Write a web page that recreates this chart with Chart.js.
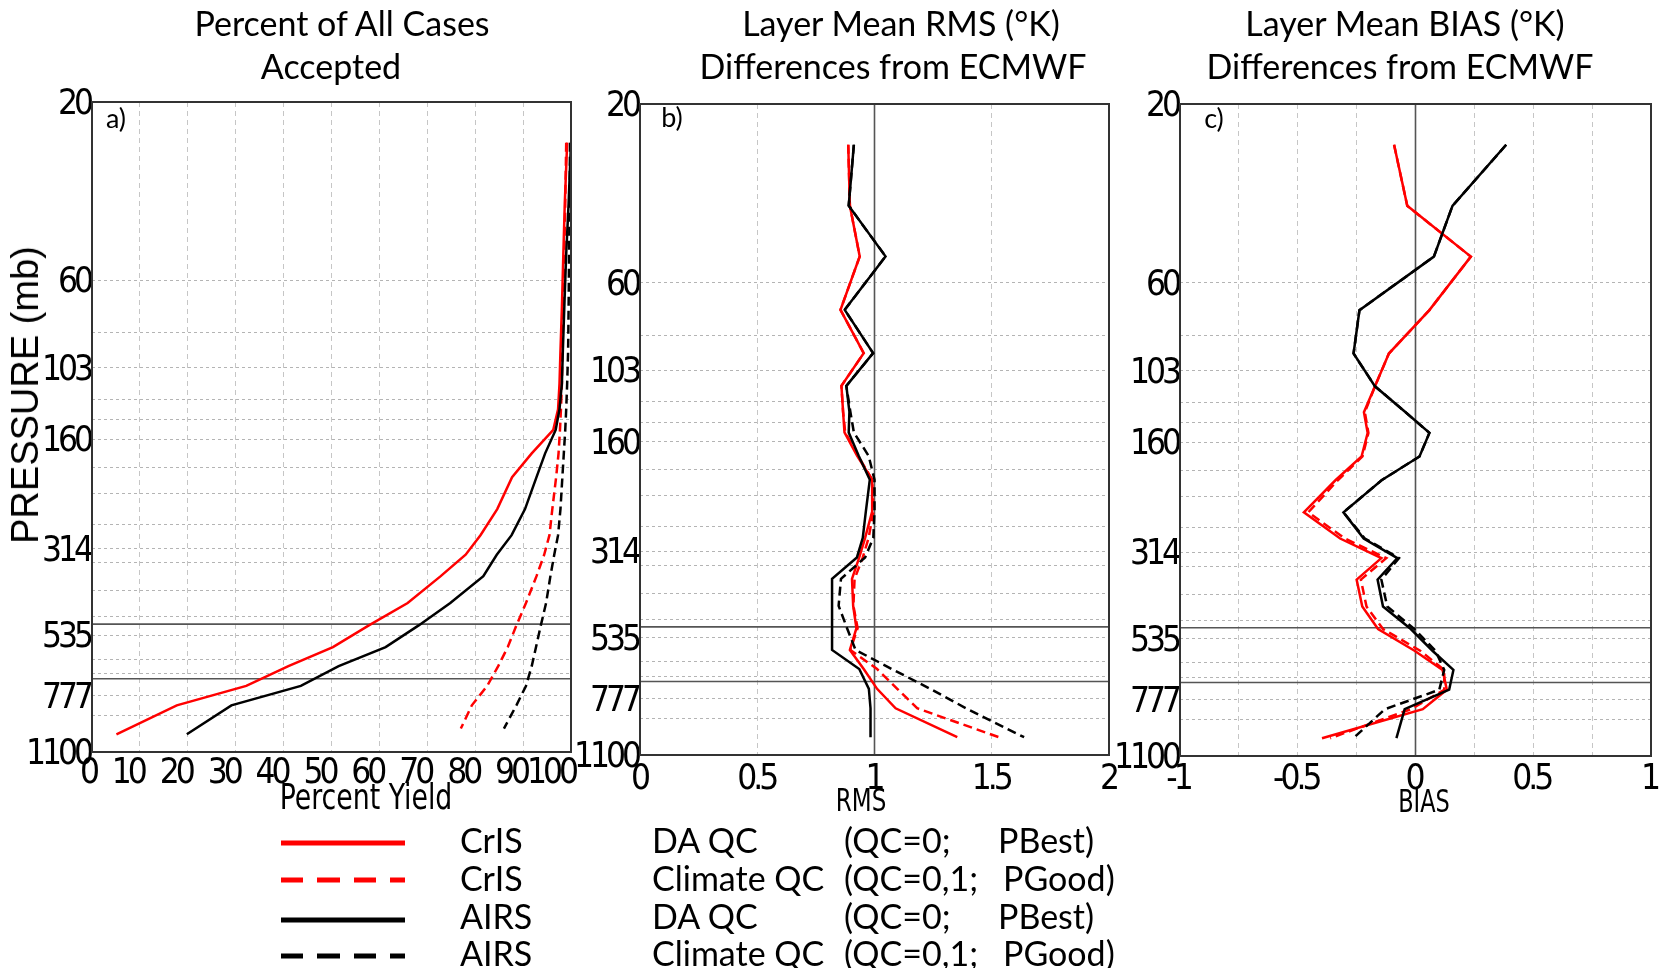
<!DOCTYPE html>
<html>
<head>
<meta charset="utf-8">
<script src="https://cdn.jsdelivr.net/npm/chart.js@4.4.1/dist/chart.umd.min.js"></script>
<style>
html,body{margin:0;padding:0;background:#fff;}
#wrap{position:relative;width:1665px;height:968px;overflow:hidden;background:#fff;}
canvas{position:absolute;left:0;top:0;}
.t{position:absolute;transform:translate(-50%,-50%);white-space:nowrap;line-height:1;color:#000;}
.title{font-family:Lato,'Open Sans',sans-serif;font-size:34px;}
.narrow{font-family:'DejaVu Sans Condensed','Liberation Sans',sans-serif;}
.lab{font-family:Lato,'Open Sans',sans-serif;font-size:27px;}
.lg{position:absolute;white-space:nowrap;line-height:1;font-family:Lato,'Open Sans',sans-serif;font-size:34px;transform:translateY(-50%);color:#000;}
.ln{position:absolute;left:281px;width:124px;height:5px;transform:translateY(-50%);}
</style>
</head>
<body>
<div id="wrap">
  <canvas id="ca" width="1665" height="968"></canvas>
  <canvas id="cb" width="1665" height="968"></canvas>
  <canvas id="cc" width="1665" height="968"></canvas>

  <div class="t title" style="left:342px;top:23px;">Percent of All Cases</div>
  <div class="t title" style="left:331px;top:66px;">Accepted</div>
  <div class="t title" style="left:901px;top:23px;">Layer Mean RMS (°K)</div>
  <div class="t title" style="left:893px;top:66px;">Differences from ECMWF</div>
  <div class="t title" style="left:1405px;top:23px;">Layer Mean BIAS (°K)</div>
  <div class="t title" style="left:1400px;top:66px;">Differences from ECMWF</div>

  <div class="t lab" style="left:116px;top:117px;">a)</div>
  <div class="t lab" style="left:672px;top:116px;">b)</div>
  <div class="t lab" style="left:1214px;top:117px;">c)</div>

  <div class="t" style="left:25px;top:395px;transform:translate(-50%,-50%) rotate(-90deg);font-family:'Liberation Sans',Arial,sans-serif;font-size:38px;">PRESSURE (mb)</div>
  <div class="t narrow" style="left:366px;top:797px;font-size:35px;transform:translate(-50%,-50%) scaleX(0.85);">Percent Yield</div>
  <div class="t narrow" style="left:861px;top:800px;font-size:32px;transform:translate(-50%,-50%) scaleX(0.8);">RMS</div>
  <div class="t narrow" style="left:1424px;top:801px;font-size:32px;transform:translate(-50%,-50%) scaleX(0.78);">BIAS</div>

  <div class="ln" style="top:843px;background:#ff0000;"></div>
  <div class="ln" style="top:880px;background:repeating-linear-gradient(to right,#ff0000 0 22px,transparent 22px 36.5px);"></div>
  <div class="ln" style="top:920px;background:#000;"></div>
  <div class="ln" style="top:956px;background:repeating-linear-gradient(to right,#000 0 22px,transparent 22px 36.5px);"></div>

  <div class="lg" style="left:460px;top:840px;">CrIS</div>
  <div class="lg" style="left:652px;top:840px;">DA QC</div>
  <div class="lg" style="left:844px;top:840px;">(QC=0;</div>
  <div class="lg" style="left:998px;top:840px;">PBest)</div>

  <div class="lg" style="left:460px;top:878px;">CrIS</div>
  <div class="lg" style="left:652px;top:878px;">Climate QC</div>
  <div class="lg" style="left:844px;top:878px;">(QC=0,1;</div>
  <div class="lg" style="left:1003px;top:878px;">PGood)</div>

  <div class="lg" style="left:460px;top:916px;">AIRS</div>
  <div class="lg" style="left:652px;top:916px;">DA QC</div>
  <div class="lg" style="left:844px;top:916px;">(QC=0;</div>
  <div class="lg" style="left:998px;top:916px;">PBest)</div>

  <div class="lg" style="left:460px;top:953px;">AIRS</div>
  <div class="lg" style="left:652px;top:953px;">Climate QC</div>
  <div class="lg" style="left:844px;top:953px;">(QC=0,1;</div>
  <div class="lg" style="left:1003px;top:953px;">PGood)</div>
</div>

<script>
// ---------------- DATA ----------------
// Layer pressures (mb) at which profile values are plotted
const LEVELS = [25.7, 37.4, 51.1, 71, 92.7, 113.4, 133, 151, 174.5, 202, 246, 289, 326, 372, 439, 504, 576, 648, 732, 825, 986];
// Panel a climate-QC profiles stop a bit higher
const LEVELS_A_CLIM = [25.7, 37.4, 51.1, 71, 92.7, 113.4, 133, 151, 174.5, 202, 246, 289, 326, 372, 439, 504, 576, 648, 732, 825, 952];

// Pressure grid lines and labelled pressure ticks
const GRID_P = [20, 60, 83, 103, 125, 142, 160, 190, 223, 270, 314, 343, 407, 478, 535, 620, 680, 777, 880, 1100];
const P_LABELS = [20, 60, 103, 160, 314, 535, 777, 1100];
const REF_P = [500, 700];

// x-axis ticks
const YIELD_TICKS = [0, 10, 20, 30, 40, 50, 60, 70, 80, 90, 100];
const RMS_TICKS = [0, 0.5, 1, 1.5, 2];
const BIAS_TICKS = [-1, -0.75, -0.5, -0.25, 0, 0.25, 0.5, 0.75, 1];
const RMS_REF = 1;
const BIAS_REF = 0;

// a) Percent yield
const yieldCrisDA   = [99.2, 98.7, 98.4, 98.1, 97.8, 97.6, 97.3, 96.3, 91.8, 87.7, 84.6, 81.1, 78.0, 72.8, 65.9, 57.8, 50.3, 41.0, 32.2, 17.7, 5.1];
const yieldCrisClim = [99.0, 98.8, 98.6, 98.4, 98.2, 98.1, 97.9, 97.7, 97.4, 96.9, 96.1, 95.5, 94.4, 92.8, 90.6, 88.6, 86.8, 84.8, 82.5, 79.3, 77.0];
const yieldAirsDA   = [100, 99.5, 99.0, 98.6, 98.3, 98.1, 97.6, 96.8, 94.6, 92.8, 90.4, 87.6, 84.5, 81.7, 74.8, 68.2, 61.3, 51.5, 43.6, 29.1, 19.8];
const yieldAirsClim = [99.8, 99.7, 99.6, 99.5, 99.4, 99.2, 99.0, 98.8, 98.5, 98.2, 97.8, 97.3, 96.5, 95.7, 94.8, 93.7, 92.7, 91.8, 90.6, 88.6, 86.0];

// b) RMS differences
const rmsCrisDA   = [0.888, 0.895, 0.937, 0.855, 0.954, 0.859, 0.866, 0.872, 0.926, 0.99, 0.99, 0.96, 0.935, 0.904, 0.909, 0.923, 0.895, 0.954, 1.011, 1.090, 1.353];
const rmsCrisClim = [0.888, 0.895, 0.937, 0.855, 0.954, 0.859, 0.866, 0.875, 0.93, 0.99, 0.995, 0.975, 0.95, 0.915, 0.91, 0.928, 0.897, 1.011, 1.097, 1.182, 1.531];
const rmsAirsDA   = [0.912, 0.890, 1.047, 0.873, 0.994, 0.880, 0.893, 0.890, 0.933, 0.980, 0.963, 0.95, 0.925, 0.819, 0.819, 0.819, 0.819, 0.935, 0.976, 0.983, 0.983];
const rmsAirsClim = [0.912, 0.890, 1.047, 0.873, 0.994, 0.880, 0.897, 0.912, 0.975, 1.0, 1.0, 0.995, 0.96, 0.857, 0.847, 0.883, 0.919, 1.074, 1.238, 1.39, 1.638];

// c) BIAS differences
const biasCrisDA   = [-0.091, -0.035, 0.235, 0.059, -0.113, -0.172, -0.219, -0.203, -0.229, -0.34, -0.474, -0.32, -0.145, -0.25, -0.226, -0.159, -0.004, 0.115, 0.133, 0.031, -0.397];
const biasCrisClim = [-0.091, -0.035, 0.235, 0.059, -0.113, -0.172, -0.215, -0.2, -0.225, -0.33, -0.455, -0.30, -0.124, -0.232, -0.208, -0.138, 0.02, 0.122, 0.122, -0.02, -0.362];
const biasAirsDA   = [0.385, 0.157, 0.078, -0.238, -0.263, -0.172, -0.042, 0.059, 0.017, -0.144, -0.306, -0.22, -0.077, -0.161, -0.138, -0.02, 0.072, 0.161, 0.143, -0.046, -0.081];
const biasAirsClim = [0.385, 0.157, 0.078, -0.238, -0.263, -0.172, -0.042, 0.059, 0.017, -0.144, -0.306, -0.215, -0.07, -0.145, -0.12, -0.005, 0.085, 0.122, 0.101, -0.13, -0.264];

// ---------------- RENDER ----------------
const TICK_FAMILY = "'DejaVu Sans Condensed','Liberation Sans',sans-serif";
const W = 1665, H = 968, YW = 90, XH = 60;

function pts(levels, vals) { return vals.map((v, i) => ({ x: v, y: levels[i] })); }

function series(label, levels, vals, color, dashed) {
  return { label, data: pts(levels, vals), showLine: true, borderColor: color, backgroundColor: color,
           borderWidth: 2.5, borderDash: dashed ? [9, 5] : [], pointRadius: 0, order: 0, tension: 0 };
}

function refLine(data) {
  return { label: 'ref', data, showLine: true, borderColor: '#555', borderWidth: 1.6, pointRadius: 0, order: 5 };
}

const frame = {
  id: 'frame',
  beforeDraw(chart) { try { chart.ctx.letterSpacing = '-4px'; } catch (e) {} },
  afterDatasetsDraw(chart) {
    const a = chart.chartArea, c = chart.ctx;
    c.save();
    c.strokeStyle = '#333'; c.lineWidth = 2; c.setLineDash([]);
    c.strokeRect(a.left, a.top, a.right - a.left, a.bottom - a.top);
    c.restore();
  },
  afterDraw(chart) { try { chart.ctx.letterSpacing = '0px'; } catch (e) {} }
};

function panel(id, g, xc, datasets) {
  return new Chart(document.getElementById(id), {
    type: 'scatter',
    data: { datasets },
    options: {
      responsive: false, animation: false, devicePixelRatio: 1,
      layout: { padding: { left: g.L - YW, top: g.T, right: W - g.R, bottom: H - g.B - XH } },
      plugins: { legend: { display: false }, tooltip: { enabled: false }, title: { display: false } },
      scales: {
        x: {
          type: 'linear', position: 'bottom', min: xc.min, max: xc.max,
          afterFit: s => { s.height = XH; },
          afterBuildTicks: s => { s.ticks = xc.ticks.map(v => ({ value: v })); },
          grid: { color: '#c6c6c6', lineWidth: 1, drawTicks: false },
          border: { display: false, dash: [5, 4] },
          ticks: { autoSkip: false, maxRotation: 0, minRotation: 0, padding: g.xpad, labelOffset: g.xoff,
                   align: xc.align, color: '#000', font: { size: 35, family: TICK_FAMILY }, callback: xc.label }
        },
        y: {
          type: 'logarithmic', reverse: true, min: 20, max: 1100,
          afterFit: s => { s.width = YW; },
          afterBuildTicks: s => { s.ticks = GRID_P.map(v => ({ value: v })); },
          grid: { color: '#b4b4b4', lineWidth: 1, drawTicks: false },
          border: { display: false, dash: [3, 3] },
          ticks: { autoSkip: false, padding: 2, labelOffset: 3, color: '#000', font: { size: 35, family: TICK_FAMILY },
                   callback: v => P_LABELS.includes(v) ? String(v) : '' }
        }
      }
    },
    plugins: [frame]
  });
}

function hRefs(xmin, xmax) { return REF_P.map(p => refLine([{ x: xmin, y: p }, { x: xmax, y: p }])); }

panel('ca', { L: 92, T: 102, R: 571, B: 752, xpad: 1, xoff: 4 },
  { min: 0, max: 100, ticks: YIELD_TICKS, align: 'end', label: v => String(v) },
  [
    series('AIRS DA QC', LEVELS, yieldAirsDA, '#000', false),
    series('AIRS Climate QC', LEVELS_A_CLIM, yieldAirsClim, '#000', true),
    series('CrIS DA QC', LEVELS, yieldCrisDA, '#ff0000', false),
    series('CrIS Climate QC', LEVELS_A_CLIM, yieldCrisClim, '#ff0000', true),
    ...hRefs(0, 100)
  ]);

panel('cb', { L: 640, T: 104, R: 1109, B: 755, xpad: 4, xoff: -1 },
  { min: 0, max: 2, ticks: RMS_TICKS, align: 'center', label: v => String(v) },
  [
    series('AIRS DA QC', LEVELS, rmsAirsDA, '#000', false),
    series('AIRS Climate QC', LEVELS, rmsAirsClim, '#000', true),
    series('CrIS DA QC', LEVELS, rmsCrisDA, '#ff0000', false),
    series('CrIS Climate QC', LEVELS, rmsCrisClim, '#ff0000', true),
    ...hRefs(0, 2),
    refLine([{ x: RMS_REF, y: 20 }, { x: RMS_REF, y: 1100 }])
  ]);

panel('cc', { L: 1180, T: 104, R: 1651, B: 756, xpad: 3, xoff: -2 },
  { min: -1, max: 1, ticks: BIAS_TICKS, align: 'center',
    label: v => (Math.abs(v * 2 - Math.round(v * 2)) < 1e-9 ? String(v) : '') },
  [
    series('AIRS DA QC', LEVELS, biasAirsDA, '#000', false),
    series('AIRS Climate QC', LEVELS, biasAirsClim, '#000', true),
    series('CrIS DA QC', LEVELS, biasCrisDA, '#ff0000', false),
    series('CrIS Climate QC', LEVELS, biasCrisClim, '#ff0000', true),
    ...hRefs(-1, 1),
    refLine([{ x: BIAS_REF, y: 20 }, { x: BIAS_REF, y: 1100 }])
  ]);
</script>
</body>
</html>
